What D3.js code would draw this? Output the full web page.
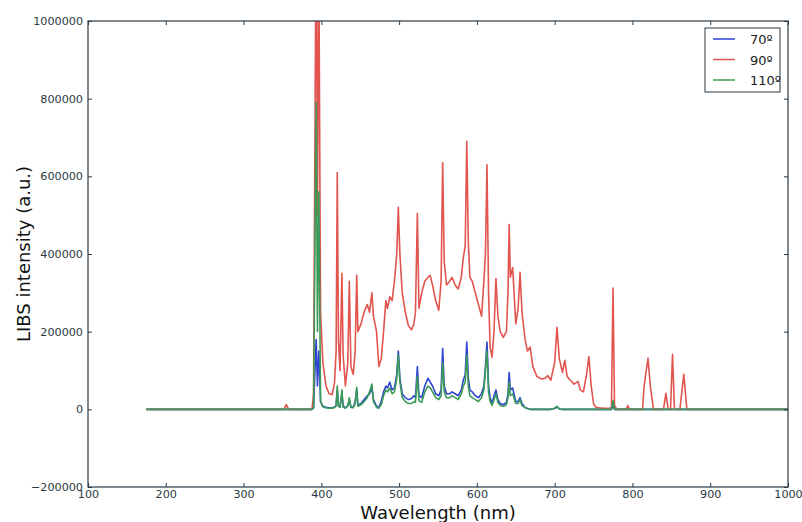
<!DOCTYPE html>
<html><head><meta charset="utf-8">
<script src="https://cdn.jsdelivr.net/npm/d3@7"></script>
<style>body{margin:0;background:#fff}svg{display:block}</style>
</head><body><svg id="c" width="802" height="522"></svg>
<script>
const wavelengths = [175,300,352,355,358,388,390,393.4,395,396.8,399,402,406,410,414,417,419,420.5,422,424,426.5,428,431,434,436,438,441,443.5,445.5,447,451,455,459,462,465,467,471,474,477,480,483,485,488,491,494,497,499,501,504,508,512,516,519,521,523.5,525.5,529,533,537,540,543,547,551,554,556,558,561,565,568,572,576,580,582.5,585,587,589,591,594,598,602,606,609,611,613,615,617,619.5,622,624.5,627,630,634,638,640,641.5,643,646,650,653,655.5,658,662,665,668.5,672,677,683,688,691,695,700,703,706,710,713,716,720,725,730,733,737,741,744,747,750,753,760,770,773,775,777,780,792,794,796,813,815,820,823,827,840,843,846,849,851.5,854,861,866,870,1000];
const int90 = [0,0,0,12000,0,0,40000,1300000,500000,1150000,250000,120000,60000,40000,38000,70000,150000,610000,180000,100000,350000,140000,60000,120000,330000,110000,90000,150000,345000,200000,220000,250000,270000,250000,300000,240000,200000,110000,130000,200000,280000,260000,290000,280000,330000,400000,520000,400000,300000,250000,215000,205000,220000,250000,505000,260000,300000,330000,340000,345000,320000,280000,255000,330000,635000,380000,320000,330000,340000,320000,310000,340000,390000,420000,690000,430000,340000,330000,300000,270000,240000,330000,400000,630000,300000,160000,134000,200000,337000,240000,200000,185000,200000,300000,476000,340000,365000,220000,260000,353000,250000,180000,150000,160000,110000,85000,78000,80000,87000,75000,120000,211000,130000,95000,126000,85000,75000,65000,72000,50000,45000,90000,136000,60000,15000,5000,3000,2000,5000,312000,10000,0,0,10000,0,0,60000,132000,60000,0,0,41000,0,0,142000,0,0,90000,0,0];
const int70 = [0,0,0,0,0,0,5000,180000,60000,150000,20000,8000,5000,4000,4000,6000,10000,50000,10000,6000,40000,8000,4000,10000,25000,6000,5000,20000,50000,10000,15000,25000,35000,40000,55000,25000,8000,5000,20000,45000,60000,55000,70000,50000,55000,90000,150000,80000,40000,30000,25000,28000,35000,30000,110000,35000,30000,60000,80000,70000,60000,40000,35000,50000,157000,60000,40000,40000,45000,40000,35000,50000,75000,90000,173000,80000,50000,45000,35000,30000,40000,60000,110000,173000,60000,30000,15000,35000,50000,25000,15000,12000,18000,40000,95000,50000,55000,20000,20000,30000,15000,5000,2000,0,0,0,0,0,0,0,2000,6000,1000,0,0,0,0,0,0,0,0,0,0,0,0,0,0,0,0,10000,0,0,0,0,0,0,0,0,0,0,0,0,0,0,0,0,0,0,0,0,0];
const int110 = [0,0,0,0,0,0,3000,790000,200000,560000,20000,6000,4000,3000,3000,5000,8000,60000,8000,5000,50000,6000,3000,8000,30000,5000,4000,15000,57000,8000,12000,20000,30000,45000,65000,20000,5000,3000,12000,35000,50000,45000,55000,40000,45000,80000,140000,70000,30000,20000,15000,15000,20000,18000,85000,22000,18000,45000,60000,55000,45000,30000,25000,35000,120000,45000,30000,30000,35000,30000,25000,40000,60000,70000,140000,60000,35000,30000,25000,20000,30000,50000,100000,150000,45000,20000,10000,25000,40000,18000,10000,8000,12000,30000,70000,35000,40000,15000,15000,25000,10000,4000,2000,0,0,0,0,0,0,0,3000,8000,1000,0,0,0,0,0,0,0,0,0,0,0,0,0,0,0,0,23000,0,0,0,0,0,0,0,0,0,0,0,0,0,0,0,0,0,0,0,0,0];
const seriesNames = ["70º","90º","110º"];
const seriesColors = ["#2f45d2","#e2544e","#3c9a58"];
const xTicks = [100,200,300,400,500,600,700,800,900,1000];
const yTicks = [-200000,0,200000,400000,600000,800000,1000000];

const svg = d3.select("#c");
const L=88, R=788, T=21, B=487;
const x = d3.scaleLinear().domain([100,1000]).range([L,R]);
const y = d3.scaleLinear().domain([-200000,1000000]).range([B,T]);
const fmt = v => v<0 ? "\u2212"+Math.abs(v) : String(v);

svg.append("defs").append("clipPath").attr("id","clip")
  .append("rect").attr("x",L).attr("y",T).attr("width",R-L).attr("height",B-T);

const series = [int70,int90,int110];
const line = d3.line().x(d=>x(d[0])).y(d=>y(d[1]));
const g = svg.append("g").attr("clip-path","url(#clip)");
series.forEach((s,i)=>{
  g.append("path").datum(wavelengths.map((w,j)=>[w,s[j]]))
    .attr("d",line).attr("fill","none").attr("stroke",seriesColors[i])
    .attr("stroke-width",1.6).attr("stroke-linejoin","round");
});

const axCol="#2a3a44";
const tf = "DejaVu Sans, sans-serif";
const xb = svg.append("g").attr("transform",`translate(0,${B})`)
  .call(d3.axisBottom(x).tickValues(xTicks).tickSize(-4).tickPadding(3).tickFormat(d=>String(d)));
const xt = svg.append("g").attr("transform",`translate(0,${T})`)
  .call(d3.axisTop(x).tickValues(xTicks).tickSize(-4).tickFormat(""));
const yl = svg.append("g").attr("transform",`translate(${L},0)`)
  .call(d3.axisLeft(y).tickValues(yTicks).tickSize(-4).tickPadding(5).tickFormat(fmt));
const yr = svg.append("g").attr("transform",`translate(${R},0)`)
  .call(d3.axisRight(y).tickValues(yTicks).tickSize(-4).tickFormat(""));
[xb,xt,yl,yr].forEach(a=>{
  a.select(".domain").remove();
  a.selectAll(".tick line").attr("stroke",axCol).attr("stroke-width",1);
  a.selectAll(".tick text").attr("fill","#2a3a44").attr("font-family",tf).attr("font-size",11.2);
});
svg.append("rect").attr("x",L).attr("y",T).attr("width",R-L).attr("height",B-T)
  .attr("fill","none").attr("stroke",axCol).attr("stroke-width",1.2);

svg.append("text").attr("x",(L+R)/2).attr("y",519).attr("text-anchor","middle")
  .attr("font-family",tf).attr("font-size",18).attr("fill","#111").text("Wavelength (nm)");
svg.append("text").attr("transform",`translate(30,${(T+B)/2}) rotate(-90)`).attr("text-anchor","middle")
  .attr("font-family",tf).attr("font-size",18).attr("fill","#111").text("LIBS intensity (a.u.)");

const lg = svg.append("g");
lg.append("rect").attr("x",705).attr("y",28).attr("width",75).attr("height",64)
  .attr("fill","#fff").attr("stroke",axCol).attr("stroke-width",1);
seriesNames.forEach((n,i)=>{
  const yy = 39 + i*20.5;
  lg.append("line").attr("x1",713).attr("x2",735).attr("y1",yy).attr("y2",yy)
    .attr("stroke",seriesColors[i]).attr("stroke-width",1.5);
  lg.append("text").attr("x",750).attr("y",yy+5).attr("font-family",tf).attr("font-size",13)
    .attr("fill","#222").text(n);
});
</script></body></html>
